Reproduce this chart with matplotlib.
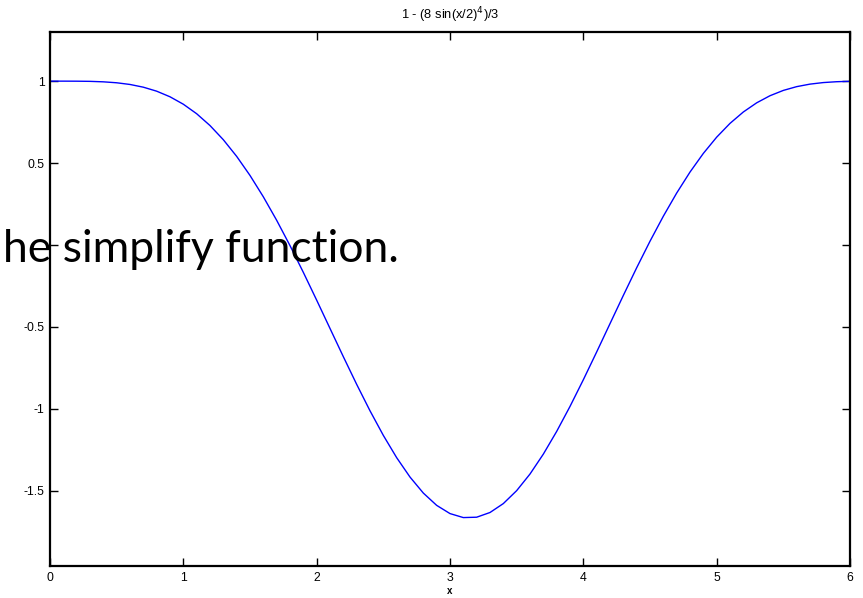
import matplotlib
matplotlib.use("Agg")
import matplotlib.pyplot as plt

title = "1 - (8 sin(x/2)$^4$)/3"
xlabel = "x"
overlay_text = "he simplify function."

x_values = [0.0, 0.1, 0.2, 0.3, 0.4, 0.5, 0.6, 0.7, 0.8, 0.9,
            1.0, 1.1, 1.2, 1.3, 1.4, 1.5, 1.6, 1.7, 1.8, 1.9,
            2.0, 2.1, 2.2, 2.3, 2.4, 2.5, 2.6, 2.7, 2.8, 2.9,
            3.0, 3.1, 3.2, 3.3, 3.4, 3.5, 3.6, 3.7, 3.8, 3.9,
            4.0, 4.1, 4.2, 4.3, 4.4, 4.5, 4.6, 4.7, 4.8, 4.9,
            5.0, 5.1, 5.2, 5.3, 5.4, 5.5, 5.6, 5.7, 5.8, 5.9, 6.0]
y_values = [1.000, 1.000, 0.9997, 0.9987, 0.9958, 0.9900, 0.9797, 0.9631, 0.9387, 0.9045,
            0.8591, 0.8010, 0.7289, 0.6423, 0.5407, 0.4243, 0.2938, 0.1505, -0.0040, -0.1674,
            -0.3370, -0.5097, -0.6822, -0.8510, -1.0124, -1.1627, -1.2987, -1.4170, -1.5148, -1.5898,
            -1.6400, -1.6644, -1.6621, -1.6334, -1.5789, -1.4999, -1.3985, -1.2770, -1.1384, -0.9859,
            -0.8230, -0.6534, -0.4806, -0.3082, -0.1394, 0.0226, 0.1754, 0.3167, 0.4449, 0.5588,
            0.6579, 0.7421, 0.8117, 0.8676, 0.9110, 0.9434, 0.9664, 0.9818, 0.9913, 0.9965, 0.9989]

x_ticks = [0, 1, 2, 3, 4, 5, 6]
x_tick_labels = ["0", "1", "2", "3", "4", "5", "6"]
y_ticks = [-1.5, -1, -0.5, 0, 0.5, 1]
y_tick_labels = ["-1.5", "-1", "-0.5", "", "0.5", "1"]

W, H = 863, 598
fig = plt.figure(figsize=(W / 100, H / 100), dpi=100)
ax = fig.add_axes([50 / W, 1 - 566 / H, 800 / W, 534 / H])

ax.plot(x_values, y_values, color="#0000ff", linewidth=1.0)
ax.set_xlim(0, 6)
ax.set_ylim(-1.96, 1.30)

ax.set_xticks(x_ticks)
ax.set_xticklabels(x_tick_labels)
ax.set_yticks(y_ticks)
ax.set_yticklabels(y_tick_labels)

for sp in ax.spines.values():
    sp.set_linewidth(1.6)
    sp.set_color("black")

ax.tick_params(direction="in", length=6, width=1.0, top=True, right=True,
               labelsize=8.8, colors="black", pad=4)
for lab in ax.get_xticklabels() + ax.get_yticklabels():
    lab.set_fontfamily("Liberation Sans")

ax.set_title(title, fontsize=9.3, fontfamily="Liberation Sans", pad=9)
ax.set_xlabel(xlabel, fontsize=7, fontfamily="Liberation Sans", fontweight="bold", labelpad=2)

fig.text(3 / W, 1 - 262 / H, overlay_text, fontsize=32, fontfamily="Lato",
         ha="left", va="baseline", color="black")

fig.savefig("out.png", dpi=100, facecolor="white")
